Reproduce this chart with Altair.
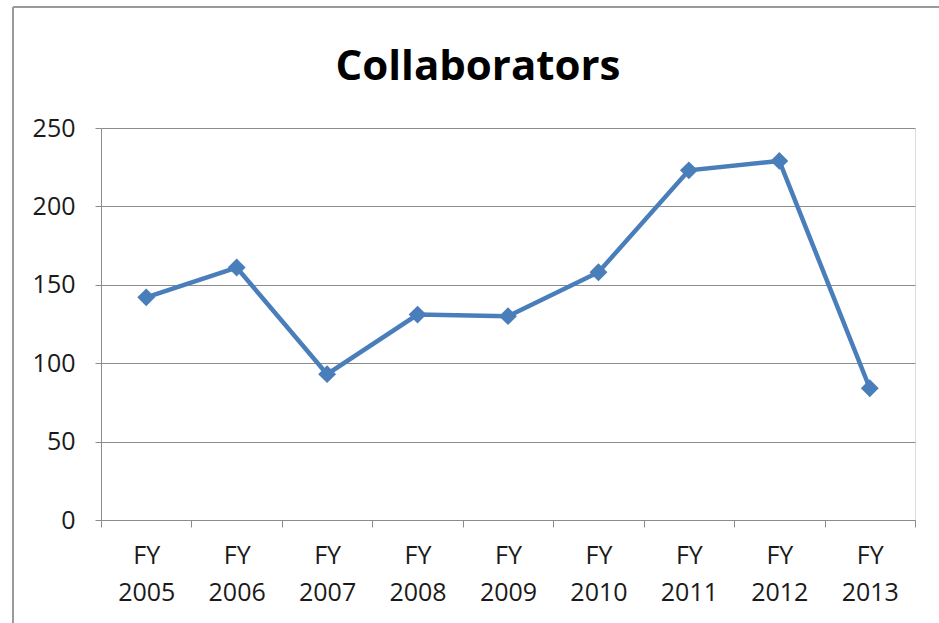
import altair as alt
import pandas as pd

years = ["FY 2005", "FY 2006", "FY 2007", "FY 2008", "FY 2009",
         "FY 2010", "FY 2011", "FY 2012", "FY 2013"]
collaborators = [142, 161, 93, 131, 130, 158, 223, 229, 84]
y_ticks = [0, 50, 100, 150, 200, 250]

df = pd.DataFrame({"year": years, "value": collaborators})

FONT = "Open Sans"
LINE_COLOR = "#4a7ebb"
GRID = "#8c8c8c"

x_enc = alt.X("year:N", sort=years,
              scale=alt.Scale(type="band", paddingInner=0, paddingOuter=0),
              axis=alt.Axis(title=None, labelAngle=0,
                            labelExpr="split(datum.label, ' ')",
                            labelLineHeight=37, labelPadding=16,
                            labelFontSize=25, labelColor="#1a1a1a",
                            labelFont=FONT, tickBand="extent",
                            tickSize=7, tickColor=GRID, domainColor=GRID,
                            grid=False))
y_enc = alt.Y("value:Q",
              scale=alt.Scale(domain=[0, 250], nice=False),
              axis=alt.Axis(title=None, values=y_ticks, tickSize=6,
                            tickColor=GRID, domainColor=GRID,
                            gridColor=GRID, gridWidth=1,
                            labelFontSize=25, labelColor="#1a1a1a",
                            labelFont=FONT, labelPadding=20))

base = alt.Chart(df)
line = base.mark_line(color=LINE_COLOR, strokeWidth=4.5).encode(x=x_enc, y=y_enc)
pts = base.mark_point(shape="diamond", filled=True, size=320, opacity=1,
                      color=LINE_COLOR).encode(x=x_enc, y=y_enc)

frame_left = alt.Chart(df.head(1)).mark_rule(color="#9a9a9a", strokeWidth=2, clip=False).encode(
    x=alt.value(-88), y=alt.value(-121), y2=alt.value(520))
frame_top = alt.Chart(df.head(1)).mark_rule(color="#9a9a9a", strokeWidth=2, clip=False).encode(
    x=alt.value(-88), x2=alt.value(860), y=alt.value(-121))

chart = alt.layer(frame_left, frame_top, line, pts).properties(
    width=814, height=392,
    title=alt.TitleParams("Collaborators", fontSize=42, font=FONT,
                          fontWeight="bold", color="#000000",
                          anchor="middle", dx=-30, offset=-83),
    autosize=alt.AutoSizeParams(type="none"),
    padding={"left": 101, "top": 128, "right": 24, "bottom": 103},
).configure_view(stroke=None).configure(background="white")

chart.save("out.html", embed_options={"renderer": "svg", "actions": False})
